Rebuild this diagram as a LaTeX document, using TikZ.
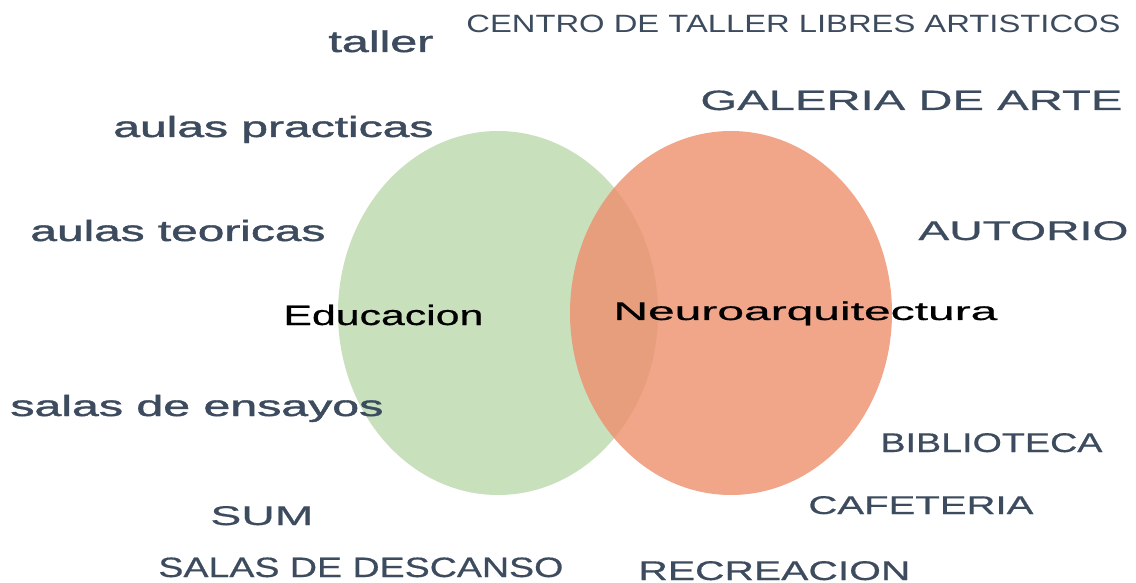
\documentclass[tikz,border=0pt]{standalone}
\usepackage{fontspec}
\usepackage{graphicx}
\setmainfont{Liberation Sans}
\newfontfamily\heavyfont[FakeBold=1.2]{Liberation Sans}
\newfontfamily\midfont[FakeBold=0.5]{Liberation Sans}
\definecolor{VennGreen}{HTML}{C9E0BC}
\definecolor{VennOrange}{HTML}{EE8E6C}
\definecolor{LblText}{HTML}{3D4B5E}
% stretch a label to a given width, keep its height
\newcommand\stretchto[2]{\resizebox{#1}{\height}{#2}}
\newcommand\fs[1]{\fontsize{#1}{#1}\selectfont}

\begin{document}
\begin{tikzpicture}[
  x=0.5pt, y=-0.5pt,
  lbl/.style={inner sep=0pt, anchor=base west, text=LblText},
  hub/.style={inner sep=0pt, anchor=base west, text=black},
]
\useasboundingbox (0,0) rectangle (1136,583);

% ============ Venn circles ============
\fill[VennGreen] (498,313) ellipse [x radius=160, y radius=182];
\fill[VennOrange, opacity=0.8] (731,313) ellipse [x radius=161, y radius=182];

\node[hub, font=\midfont\fs{14}] (edu) at (283,325) {\stretchto{100pt}{Educacion}};
\node[hub, font=\midfont\fs{12.8}] (neuro) at (613,320) {\stretchto{192pt}{Neuroarquitectura}};

% ============ left side: educacion ============
\node[lbl, font=\heavyfont\fs{15}] (taller) at (328,52) {\stretchto{52.5pt}{taller}};
\node[lbl, font=\heavyfont\fs{14.6}] (practicas) at (113,137) {\stretchto{160pt}{aulas practicas}};
\node[lbl, font=\heavyfont\fs{14.6}] (teoricas) at (30,241) {\stretchto{147.5pt}{aulas teoricas}};
\node[lbl, font=\heavyfont\fs{14.6}] (ensayos) at (10,416) {\stretchto{186.5pt}{salas de ensayos}};
\node[lbl, font=\midfont\fs{13.5}] (sum) at (210,525) {\stretchto{51.5pt}{SUM}};
\node[lbl, font=\midfont\fs{14}] (descanso) at (158,577) {\stretchto{202.5pt}{SALAS DE DESCANSO}};

% ============ right side: neuroarquitectura ============
\node[lbl, font=\fs{12.5}] (centro) at (466,33) {\stretchto{327pt}{CENTRO DE TALLER LIBRES ARTISTICOS}};
\node[lbl, font=\midfont\fs{14}] (galeria) at (700,110) {\stretchto{211pt}{GALERIA DE ARTE}};
\node[lbl, font=\midfont\fs{13.5}] (autorio) at (918,240) {\stretchto{105pt}{AUTORIO}};
\node[lbl, font=\midfont\fs{13.5}] (biblio) at (880,452) {\stretchto{111pt}{BIBLIOTECA}};
\node[lbl, font=\midfont\fs{12.8}] (cafe) at (808,514) {\stretchto{112.5pt}{CAFETERIA}};
\node[lbl, font=\midfont\fs{13.5}] (recreo) at (638,580) {\stretchto{136pt}{RECREACION}};

\end{tikzpicture}
\end{document}
